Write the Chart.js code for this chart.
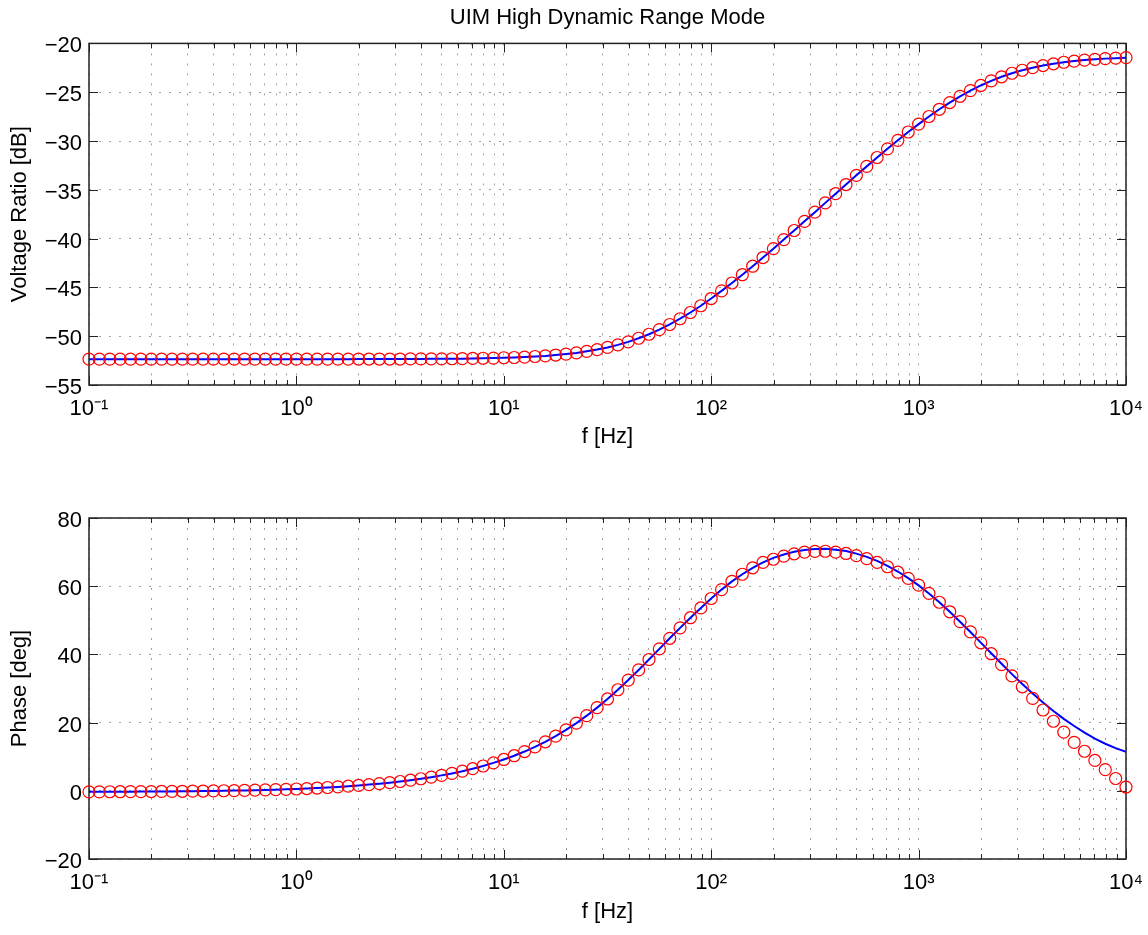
<!DOCTYPE html>
<html>
<head>
<meta charset="utf-8">
<title>UIM High Dynamic Range Mode</title>
<script src="https://cdn.jsdelivr.net/npm/chart.js@4"></script>
<style>
  html, body { margin: 0; padding: 0; background: #fff; overflow: hidden; }
  .panel { position: absolute; left: 0; width: 1148px; }
</style>
</head>
<body>
<div class="panel" style="top:0;height:465px"><canvas id="magPlot"></canvas></div>
<div class="panel" style="top:465px;height:470px"><canvas id="phasePlot"></canvas></div>
<script>
// frequency points, 20 per decade
const freqHz = [
  0.1, 0.1122, 0.1259, 0.1413, 0.1585, 0.1778, 0.1995, 0.2239, 0.2512, 0.2818,
  0.3162, 0.3548, 0.3981, 0.4467, 0.5012, 0.5623, 0.631, 0.7079, 0.7943, 0.8913,
  1, 1.122, 1.259, 1.413, 1.585, 1.778, 1.995, 2.239, 2.512, 2.818,
  3.162, 3.548, 3.981, 4.467, 5.012, 5.623, 6.31, 7.079, 7.943, 8.913,
  10, 11.22, 12.59, 14.13, 15.85, 17.78, 19.95, 22.39, 25.12, 28.18,
  31.62, 35.48, 39.81, 44.67, 50.12, 56.23, 63.1, 70.79, 79.43, 89.13,
  100, 112.2, 125.9, 141.3, 158.5, 177.8, 199.5, 223.9, 251.2, 281.8,
  316.2, 354.8, 398.1, 446.7, 501.2, 562.3, 631, 707.9, 794.3, 891.3,
  1000, 1122, 1259, 1413, 1585, 1778, 1995, 2239, 2512, 2818,
  3162, 3548, 3981, 4467, 5012, 5623, 6310, 7079, 7943, 8913,
  10000
]

// voltage ratio [dB]
const measMag = [
  -52.35, -52.35, -52.35, -52.35, -52.35, -52.35, -52.35, -52.35, -52.35, -52.35,
  -52.35, -52.35, -52.35, -52.35, -52.35, -52.35, -52.35, -52.35, -52.35, -52.35,
  -52.35, -52.35, -52.35, -52.35, -52.35, -52.35, -52.34, -52.34, -52.34, -52.34,
  -52.34, -52.33, -52.33, -52.32, -52.32, -52.31, -52.30, -52.28, -52.26, -52.24,
  -52.21, -52.18, -52.14, -52.08, -52.02, -51.93, -51.83, -51.71, -51.55, -51.37,
  -51.15, -50.89, -50.58, -50.21, -49.80, -49.33, -48.80, -48.21, -47.57, -46.88,
  -46.14, -45.36, -44.55, -43.70, -42.83, -41.94, -41.03, -40.10, -39.17, -38.23,
  -37.29, -36.34, -35.40, -34.46, -33.52, -32.60, -31.69, -30.80, -29.93, -29.08,
  -28.27, -27.49, -26.75, -26.06, -25.42, -24.84, -24.31, -23.84, -23.42, -23.06,
  -22.75, -22.49, -22.27, -22.09, -21.93, -21.81, -21.71, -21.63, -21.56, -21.51,
  -21.46
]
const fitMag = [
  -52.35, -52.35, -52.35, -52.35, -52.35, -52.35, -52.35, -52.35, -52.35, -52.35,
  -52.35, -52.35, -52.35, -52.35, -52.35, -52.35, -52.35, -52.35, -52.35, -52.35,
  -52.35, -52.35, -52.35, -52.35, -52.35, -52.35, -52.34, -52.34, -52.34, -52.34,
  -52.34, -52.33, -52.33, -52.32, -52.32, -52.31, -52.30, -52.28, -52.26, -52.24,
  -52.21, -52.18, -52.14, -52.08, -52.02, -51.93, -51.83, -51.71, -51.55, -51.37,
  -51.15, -50.89, -50.58, -50.21, -49.80, -49.33, -48.80, -48.21, -47.57, -46.88,
  -46.14, -45.36, -44.55, -43.70, -42.83, -41.94, -41.03, -40.10, -39.17, -38.23,
  -37.29, -36.34, -35.40, -34.46, -33.52, -32.60, -31.69, -30.80, -29.93, -29.08,
  -28.27, -27.49, -26.75, -26.06, -25.42, -24.84, -24.31, -23.84, -23.42, -23.06,
  -22.75, -22.49, -22.27, -22.09, -21.93, -21.81, -21.71, -21.63, -21.56, -21.51,
  -21.46
]

// phase [deg]
const measPhase = [
  -0.31, -0.30, -0.28, -0.27, -0.25, -0.24, -0.22, -0.19, -0.17, -0.14,
  -0.11, -0.07, -0.03, 0.01, 0.07, 0.12, 0.19, 0.26, 0.34, 0.43,
  0.53, 0.66, 0.81, 0.97, 1.15, 1.35, 1.57, 1.82, 2.09, 2.39,
  2.73, 3.11, 3.53, 4.00, 4.52, 5.10, 5.75, 6.48, 7.28, 8.19,
  9.19, 10.29, 11.51, 12.87, 14.37, 16.02, 17.85, 19.86, 22.03, 24.39,
  26.93, 29.63, 32.47, 35.45, 38.50, 41.61, 44.72, 47.79, 50.76, 53.62,
  56.4, 59.0, 61.4, 63.5, 65.4, 67.0, 67.9, 68.8, 69.5, 70.0,
  70.2, 70.25, 70.0, 69.6, 68.95, 68.1, 67.0, 65.7, 64.1, 62.3,
  60.3, 57.9, 55.3, 52.5, 49.6, 46.6, 43.4, 40.2, 37.0, 33.7,
  30.5, 27.1, 23.7, 20.4, 17.2, 14.2, 11.6, 8.9, 6.2, 3.6,
  1.1
]
const fitPhase = [
  -0.31, -0.30, -0.28, -0.27, -0.25, -0.24, -0.22, -0.19, -0.17, -0.14,
  -0.11, -0.07, -0.03, 0.01, 0.07, 0.12, 0.19, 0.26, 0.34, 0.43,
  0.53, 0.66, 0.81, 0.97, 1.15, 1.35, 1.57, 1.82, 2.09, 2.39,
  2.73, 3.11, 3.53, 4.00, 4.52, 5.10, 5.75, 6.48, 7.28, 8.19,
  9.19, 10.29, 11.51, 12.87, 14.37, 16.02, 17.85, 19.86, 22.03, 24.39,
  26.93, 29.63, 32.47, 35.45, 38.50, 41.61, 44.72, 47.79, 50.76, 53.62,
  56.4, 59.0, 61.4, 63.5, 65.4, 67.0, 68.3, 69.3, 70.1, 70.6,
  70.9, 70.95, 70.7, 70.3, 69.55, 68.61, 67.42, 65.99, 64.31, 62.38,
  60.23, 57.85, 55.26, 52.49, 49.58, 46.56, 43.46, 40.34, 37.25, 34.22,
  31.30, 28.52, 25.87, 23.40, 21.11, 19.01, 17.08, 15.33, 13.80, 12.50,
  11.4
]

const decadeTicks = [0.1, 1, 10, 100, 1000, 10000]
const decadeLabels = ["10\u207B\u00B9", "10\u2070", "10\u00B9", "10\u00B2", "10\u00B3", "10\u2074"]

const dataColor = "#ff0000"
const fitColor = "#0000ff"
const gridColor = "#a0a0a0"

Chart.defaults.color = "#000"
Chart.defaults.font.family = '"Liberation Sans", Arial, Helvetica, sans-serif'
Chart.defaults.font.size = 22

function points(ys) {
    return freqHz.map((f, i) => ({ x: f, y: ys[i] }))
}

// 1..9 x 10^n ticks, like a matlab log axis
function logTicks() {
    const ticks = []
    decadeTicks.forEach((d, i) => {
        ticks.push({ value: d, major: true })
        if (i < decadeTicks.length - 1) {
            for (let m = 2; m <= 9; m++) ticks.push({ value: m * d, major: false })
        }
    })
    return ticks
}

// axes box with inward tick marks
const boxAndTicks = {
    id: 'boxAndTicks',
    beforeDatasetsDraw(chart) {
        const { ctx, chartArea: a, scales: { x, y } } = chart
        const line = (x1, y1, x2, y2) => {
            ctx.beginPath(); ctx.moveTo(x1, y1); ctx.lineTo(x2, y2); ctx.stroke()
        }
        ctx.save()
        ctx.strokeStyle = "#222"
        ctx.lineWidth = 1
        x.ticks.forEach(t => {
            const px = Math.round(x.getPixelForValue(t.value)) + 0.5
            const len = t.major ? 9 : 5
            line(px, a.bottom, px, a.bottom - len)
            line(px, a.top, px, a.top + len)
        })
        y.ticks.forEach(t => {
            const py = Math.round(y.getPixelForValue(t.value)) + 0.5
            line(a.left, py, a.left + 9, py)
            line(a.right, py, a.right - 9, py)
        })
        ctx.lineWidth = 1.5
        ctx.strokeRect(a.left, a.top, a.right - a.left, a.bottom - a.top)
        ctx.restore()
    }
}

function makePlot(canvasId, meas, fit, yMin, yMax, yStep, yTitle, layout) {
    return new Chart(document.getElementById(canvasId), {
        type: 'line',
        data: {
            datasets: [{
                label: 'measured',
                data: points(meas),
                showLine: false,
                pointStyle: 'circle',
                pointRadius: 6,
                pointBorderWidth: 1.2,
                pointBorderColor: dataColor,
                pointBackgroundColor: "rgba(0,0,0,0)",
                clip: false
            }, {
                label: 'fit',
                data: points(fit),
                borderColor: fitColor,
                borderWidth: 2,
                pointRadius: 0,
                tension: 0,
                fill: false
            }]
        },
        options: {
            responsive: true,
            maintainAspectRatio: false,
            animation: false,
            devicePixelRatio: 1,
            events: [],
            layout: { padding: { left: 0, right: 22, top: layout.top, bottom: 0 } },
            plugins: {
                legend: { display: false },
                tooltip: { enabled: false },
                title: layout.title
            },
            scales: {
                x: {
                    type: 'logarithmic',
                    min: 0.1,
                    max: 10000,
                    afterBuildTicks: s => { s.ticks = logTicks() },
                    afterFit: s => {
                        s.height = layout.xHeight
                        s.paddingLeft = 0
                        s.paddingRight = 0
                    },
                    grid: { color: gridColor, lineWidth: 1, drawTicks: false },
                    border: { display: false, dash: [2, 8] },
                    ticks: {
                        autoSkip: false,
                        maxRotation: 0,
                        padding: 11,
                        callback: v => {
                            const k = decadeTicks.indexOf(v)
                            return k >= 0 ? decadeLabels[k] : ''
                        }
                    },
                    title: { display: true, text: 'f [Hz]', padding: { top: 0, bottom: layout.xTitlePad } }
                },
                y: {
                    min: yMin,
                    max: yMax,
                    afterFit: s => { s.width = 89 },
                    grid: { color: gridColor, lineWidth: 1, drawTicks: false },
                    border: { display: false, dash: [2, 8] },
                    ticks: {
                        stepSize: yStep,
                        padding: 7,
                        labelOffset: 3,
                        callback: v => (v < 0 ? '\u2212' : '') + Math.abs(v)
                    },
                    title: { display: true, text: yTitle, padding: { top: 7, bottom: 0 } }
                }
            }
        },
        plugins: [boxAndTicks]
    })
}

const magPlot = makePlot('magPlot', measMag, fitMag, -55, -20, 5, 'Voltage Ratio [dB]', {
    top: 0,
    xHeight: 80,
    xTitlePad: 15,
    title: {
        display: true,
        text: 'UIM High Dynamic Range Mode',
        fullSize: false,
        font: { size: 22, weight: 'normal' },
        padding: { top: 5, bottom: 12 }
    }
})

const phasePlot = makePlot('phasePlot', measPhase, fitPhase, -20, 80, 20, 'Phase [deg]', {
    top: 53,
    xHeight: 76,
    xTitlePad: 10,
    title: { display: false }
})
</script>
</body>
</html>
